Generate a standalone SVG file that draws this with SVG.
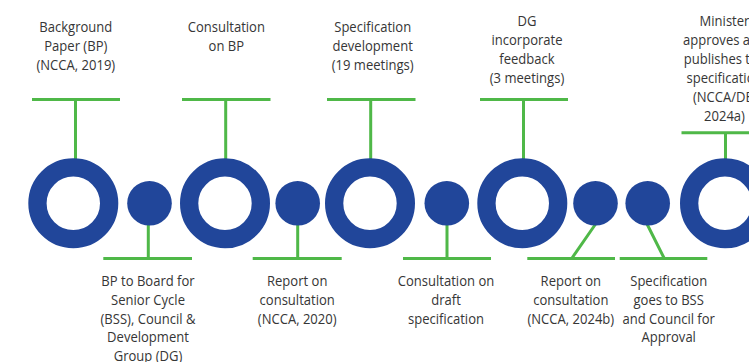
<svg xmlns="http://www.w3.org/2000/svg" width="749" height="362" viewBox="0 0 749 362">
<style>
.c{stroke:#4fb848;stroke-width:3;fill:none;stroke-linecap:butt}
.ring{fill:none;stroke:#21469a;stroke-width:18.3}
.dot{fill:#21469a}
.t{font-family:"Open Sans","Noto Sans","DejaVu Sans",sans-serif;font-size:15px;fill:#363636;text-anchor:middle}
</style>
<rect width="749" height="362" fill="#ffffff"/>
<g id="connectors">
<path class="c" d="M32 99.5H120M75.5 99.5V168"/>
<path class="c" d="M182 99.5H270.5M225.7 99.5V168"/>
<path class="c" d="M327 99.5H415.5M370.7 99.5V168"/>
<path class="c" d="M480 99.5H568M523.5 99.5V168"/>
<path class="c" d="M681.5 132.7H760M725.5 132.7V168"/>
<path class="c" d="M103.3 258.5H192M148.3 220V258.5"/>
<path class="c" d="M252.7 258.5H341.7M297.7 220V258.5"/>
<path class="c" d="M403 258.5H491M447 220V258.5"/>
<path class="c" d="M527.3 258.5H615M597 222L571.7 258.5"/>
<path class="c" d="M619.7 258.5H707.3M646 222L664.3 258.5"/>
</g>
<g id="n1"><circle class="ring" cx="73.3" cy="203.3" r="35.85"/>
<text class="t" transform="translate(75.8 0) scale(0.87 1)"><tspan x="0" y="32">Background</tspan><tspan x="0" y="51">Paper (BP)</tspan><tspan x="0" y="70">(NCCA, 2019)</tspan></text></g>
<g id="n2"><circle class="dot" cx="149.5" cy="203.3" r="22.3"/>
<text class="t" transform="translate(148 0) scale(0.87 1)"><tspan x="0" y="286.2">BP to Board for</tspan><tspan x="0" y="305">Senior Cycle</tspan><tspan x="0" y="323.7">(BSS), Council &amp;</tspan><tspan x="0" y="342.5">Development</tspan><tspan x="0" y="361.2">Group (DG)</tspan></text></g>
<g id="n3"><circle class="ring" cx="225" cy="203.3" r="35.85"/>
<text class="t" transform="translate(226.3 0) scale(0.87 1)"><tspan x="0" y="32">Consultation</tspan><tspan x="0" y="51">on BP</tspan></text></g>
<g id="n4"><circle class="dot" cx="297.7" cy="203.3" r="22.3"/>
<text class="t" transform="translate(297.2 0) scale(0.87 1)"><tspan x="0" y="286.2">Report on</tspan><tspan x="0" y="305">consultation</tspan><tspan x="0" y="323.7">(NCCA, 2020)</tspan></text></g>
<g id="n5"><circle class="ring" cx="370" cy="203.3" r="35.85"/>
<text class="t" transform="translate(372.7 0) scale(0.87 1)"><tspan x="0" y="32">Specification</tspan><tspan x="0" y="51">development</tspan><tspan x="0" y="70">(19 meetings)</tspan></text></g>
<g id="n6"><circle class="dot" cx="446.8" cy="203.3" r="22.3"/>
<text class="t" transform="translate(446 0) scale(0.87 1)"><tspan x="0" y="286.2">Consultation on</tspan><tspan x="0" y="305">draft</tspan><tspan x="0" y="323.7">specification</tspan></text></g>
<g id="n7"><circle class="ring" cx="522.3" cy="203.3" r="35.85"/>
<text class="t" transform="translate(527 0) scale(0.87 1)"><tspan x="0" y="26.5">DG</tspan><tspan x="0" y="45.5">incorporate</tspan><tspan x="0" y="64.5">feedback</tspan><tspan x="0" y="83.5">(3 meetings)</tspan></text></g>
<g id="n8"><circle class="dot" cx="595.5" cy="203.3" r="22.3"/>
<text class="t" transform="translate(570.8 0) scale(0.87 1)"><tspan x="0" y="286.2">Report on</tspan><tspan x="0" y="305">consultation</tspan><tspan x="0" y="323.7">(NCCA, 2024b)</tspan></text></g>
<g id="n9"><circle class="dot" cx="647.7" cy="203.3" r="22.3"/>
<text class="t" transform="translate(668.7 0) scale(0.87 1)"><tspan x="0" y="286.2">Specification</tspan><tspan x="0" y="305">goes to BSS</tspan><tspan x="0" y="323.7">and Council for</tspan><tspan x="0" y="342.5">Approval</tspan></text></g>
<g id="n10"><circle class="ring" cx="725" cy="203.3" r="35.85"/>
<text class="t" transform="translate(724.5 0) scale(0.87 1)"><tspan x="0" y="26.5">Minister</tspan><tspan x="0" y="45.5">approves and</tspan><tspan x="0" y="64.5">publishes the</tspan><tspan x="0" y="83.5">specification</tspan><tspan x="0" y="102.5">(NCCA/DE,</tspan><tspan x="0" y="121.5">2024a)</tspan></text></g>
</svg>
